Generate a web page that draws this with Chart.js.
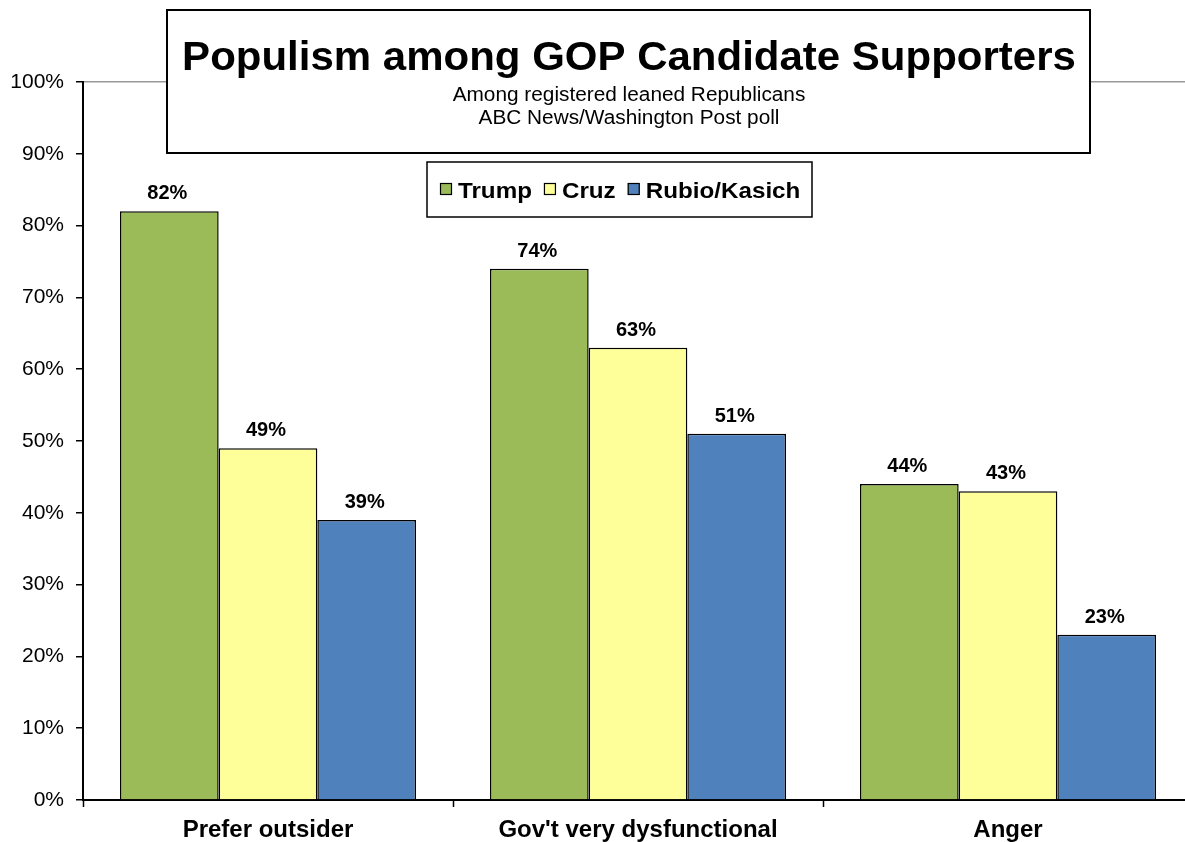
<!DOCTYPE html>
<html>
<head>
<meta charset="utf-8">
<script src="https://cdn.jsdelivr.net/npm/chart.js@4"></script>
<style>
  html, body { margin: 0; padding: 0; background: #fff; overflow: hidden; }
  #wrap { width: 1200px; height: 842px; }
</style>
</head>
<body>
<div id="wrap"><canvas id="chart" width="1200" height="842"></canvas></div>
<script>
const categories = ["Prefer outsider", "Gov't very dysfunctional", "Anger"];
const trump = [82, 74, 44];
const cruz = [49, 63, 43];
const rubioKasich = [39, 51, 23];
const seriesNames = ["Trump", "Cruz", "Rubio/Kasich"];
const seriesColors = ["#9BBB59", "#FFFF99", "#4F81BD"];
const titleText = "Populism among GOP Candidate Supporters";
const subtitleLines = ["Among registered leaned Republicans", "ABC News/Washington Post poll"];

const FONT = "Arial, 'Liberation Sans', sans-serif";

// text drawn a little wider than normal, like the original
function wideText(ctx, text, x, y, sx, align) {
    ctx.save();
    ctx.translate(x, y);
    ctx.scale(sx, 1);
    ctx.textAlign = align;
    ctx.fillText(text, 0, 0);
    ctx.restore();
}

// value labels above each bar
const valueLabels = {
    id: "valueLabels",
    afterDatasetsDraw(chart) {
        const ctx = chart.ctx;
        ctx.save();
        ctx.font = "bold 20px " + FONT;
        ctx.fillStyle = "#000";
        ctx.textAlign = "center";
        ctx.textBaseline = "alphabetic";
        chart.data.datasets.forEach((ds, i) => {
            chart.getDatasetMeta(i).data.forEach((bar, j) => {
                ctx.fillText(ds.data[j] + "%", bar.x - 2, bar.y - 12);
            });
        });
        ctx.restore();
    }
};

// title box and legend box drawn over the plot
const boxes = {
    id: "boxes",
    afterDraw(chart) {
        const ctx = chart.ctx;
        ctx.save();

        // title box
        ctx.fillStyle = "#fff";
        ctx.fillRect(167, 10, 923, 143);
        ctx.strokeStyle = "#000";
        ctx.lineWidth = 2;
        ctx.strokeRect(167, 10, 923, 143);
        ctx.fillStyle = "#000";
        ctx.font = "bold 40px " + FONT;
        wideText(ctx, titleText, 629, 70, 1.05, "center");
        ctx.font = "20px " + FONT;
        wideText(ctx, subtitleLines[0], 629, 101, 1.04, "center");
        wideText(ctx, subtitleLines[1], 629, 124, 1.04, "center");

        // legend box
        ctx.fillStyle = "#fff";
        ctx.fillRect(427, 162, 385, 55);
        ctx.lineWidth = 1.5;
        ctx.strokeRect(427, 162, 385, 55);
        ctx.font = "bold 22px " + FONT;
        let x = 440;
        seriesNames.forEach((name, i) => {
            ctx.fillStyle = seriesColors[i];
            ctx.fillRect(x, 183, 12, 12);
            ctx.lineWidth = 1.2;
            ctx.strokeStyle = "#000";
            ctx.strokeRect(x + 0.5, 183.5, 11, 11);
            ctx.fillStyle = "#000";
            wideText(ctx, name, x + 18, 198, 1.1, "left");
            x += 18 + ctx.measureText(name).width * 1.1 + 12;
        });
        ctx.restore();
    }
};

new Chart(document.getElementById("chart"), {
    type: "bar",
    data: {
        labels: categories,
        datasets: [trump, cruz, rubioKasich].map((d, i) => ({
            label: seriesNames[i],
            data: d,
            backgroundColor: seriesColors[i],
            borderColor: "#000",
            borderWidth: 1.5,
            categoryPercentage: 0.8,
            barPercentage: 1.0
        }))
    },
    options: {
        responsive: false,
        animation: false,
        layout: { padding: { top: 82, right: 7, left: 0, bottom: 0 } },
        plugins: {
            legend: { display: false },
            title: { display: false },
            tooltip: { enabled: false }
        },
        scales: {
            x: {
                afterFit(scale) { scale.height = 42; },
                grid: {
                    offset: true,
                    color: "transparent",
                    tickColor: "#000",
                    tickLength: 7,
                    tickWidth: 1.5
                },
                border: { color: "#000", width: 2 },
                ticks: {
                    color: "#000",
                    padding: 9,
                    maxRotation: 0,
                    font: { family: FONT, size: 24, weight: "bold" }
                }
            },
            y: {
                min: 0,
                max: 100,
                afterFit(scale) { scale.width = 83; },
                grid: {
                    color: c => c.tick && c.tick.value === 100 ? "#999" : "transparent",
                    tickColor: "#000",
                    tickLength: 7,
                    lineWidth: 1.5
                },
                border: { color: "#000", width: 2 },
                ticks: {
                    stepSize: 10,
                    color: "#000",
                    padding: 12,
                    font: { family: FONT, size: 21 },
                    callback: v => v + "%"
                }
            }
        }
    },
    plugins: [valueLabels, boxes]
});
</script>
</body>
</html>
